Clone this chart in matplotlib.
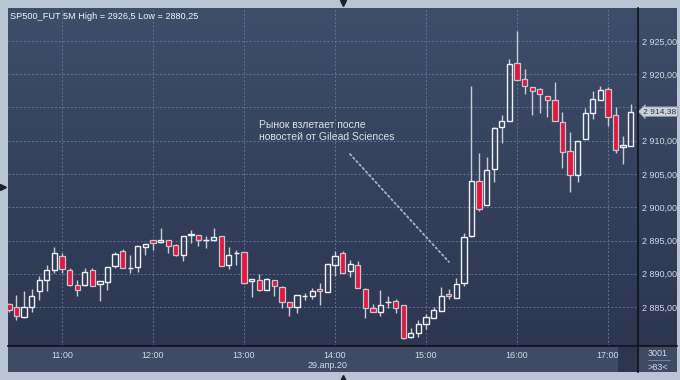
import numpy as np
import pandas as pd
import matplotlib
matplotlib.use("Agg")
import matplotlib.pyplot as plt
from matplotlib.lines import Line2D

plt.rcParams['font.family'] = ['Liberation Sans', 'DejaVu Sans']

# ---------------- data ----------------
title_text = "SP500_FUT 5M High = 2926,5 Low = 2880,25"
annotation_text = "Рынок взлетает после\nновостей от Gilead Sciences"
date_label = "29.апр.20"
start_time = "2020-04-29 10:25"
bar_count_text = ">83<"
corner_text = "3001"

opens = [2885.4, 2885.0, 2883.5, 2885.0, 2887.4, 2889.1, 2890.5, 2892.7, 2890.6, 2888.35,
         2888.35, 2890.5, 2888.45, 2888.7, 2891.1, 2893.35, 2890.8, 2891.0, 2894.0, 2895.1,
         2894.75, 2895.1, 2894.35, 2892.75, 2895.9, 2895.85, 2895.1, 2895.1, 2895.7, 2891.35,
         2893.1, 2893.25, 2888.85, 2889.0, 2887.5, 2889.1, 2887.95, 2885.75, 2884.95, 2886.6,
         2886.6, 2887.7, 2887.2, 2891.35, 2893.1, 2890.35, 2891.3, 2887.65, 2884.9, 2884.25,
         2885.8, 2885.9, 2885.25, 2880.55, 2881.15, 2882.4, 2883.3, 2884.4, 2886.9, 2886.4,
         2888.65, 2895.7, 2903.9, 2900.3, 2905.75, 2912.1, 2912.9, 2921.75, 2919.25, 2918.1,
         2917.85, 2916.75, 2916.2, 2912.85, 2908.5, 2904.85, 2910.2, 2914.1, 2916.2, 2917.85,
         2913.85, 2909.0, 2909.25]
highs = [2885.6, 2886.8, 2887.4, 2887.7, 2889.7, 2891.25, 2893.95, 2893.1, 2890.85, 2889.1,
         2890.85, 2890.85, 2888.95, 2890.95, 2893.2, 2893.7, 2892.85, 2894.25, 2894.5, 2895.1,
         2896.95, 2895.1, 2894.45, 2895.7, 2896.6, 2895.85, 2895.75, 2896.95, 2895.7, 2893.95,
         2893.6, 2893.25, 2889.2, 2890.0, 2889.4, 2889.1, 2888.2, 2885.75, 2886.85, 2887.1,
         2887.85, 2888.6, 2891.5, 2893.35, 2893.45, 2892.0, 2891.9, 2887.8, 2885.4, 2887.5,
         2886.65, 2886.15, 2885.25, 2881.8, 2883.0, 2883.9, 2885.0, 2888.0, 2887.65, 2889.4,
         2896.15, 2918.3, 2908.1, 2907.6, 2912.1, 2913.9, 2922.25, 2926.5, 2920.75, 2918.1,
         2918.0, 2916.75, 2918.8, 2914.25, 2911.25, 2909.95, 2914.95, 2917.45, 2918.2, 2918.1,
         2915.0, 2910.7, 2915.6]
lows = [2884.2, 2883.1, 2883.3, 2884.2, 2886.1, 2887.35, 2890.1, 2890.1, 2888.1, 2886.6,
        2888.2, 2888.1, 2885.95, 2887.6, 2890.85, 2890.85, 2890.1, 2890.25, 2892.85, 2893.6,
        2894.7, 2893.1, 2892.6, 2891.95, 2894.6, 2894.25, 2893.85, 2895.0, 2891.1, 2890.7,
        2891.35, 2888.5, 2886.45, 2887.35, 2887.5, 2886.7, 2884.85, 2883.6, 2884.1, 2886.1,
        2886.2, 2885.35, 2887.2, 2889.7, 2890.1, 2889.5, 2887.8, 2883.3, 2884.25, 2883.65,
        2884.9, 2884.15, 2880.25, 2880.4, 2880.55, 2881.65, 2883.3, 2884.4, 2886.15, 2886.4,
        2888.15, 2895.5, 2899.4, 2900.3, 2903.75, 2909.6, 2912.9, 2919.1, 2917.1, 2913.85,
        2914.1, 2913.6, 2913.0, 2905.95, 2902.35, 2903.75, 2910.2, 2913.25, 2916.2, 2912.25,
        2908.1, 2906.45, 2909.25]
closes = [2884.6, 2883.6, 2885.0, 2886.6, 2889.1, 2890.6, 2893.1, 2890.7, 2888.35, 2887.5,
          2890.2, 2888.2, 2888.95, 2890.95, 2892.95, 2890.85, 2890.9, 2894.25, 2894.5, 2894.6,
          2895.1, 2894.25, 2892.85, 2895.7, 2896.0, 2895.1, 2895.1, 2895.6, 2891.1, 2892.75,
          2893.1, 2888.6, 2889.2, 2887.6, 2889.25, 2888.1, 2885.75, 2884.95, 2886.85, 2886.6,
          2887.35, 2887.4, 2891.5, 2892.7, 2890.1, 2891.4, 2887.8, 2884.9, 2884.25, 2885.25,
          2885.8, 2884.8, 2880.3, 2881.15, 2882.5, 2883.5, 2884.5, 2886.65, 2886.6, 2888.5,
          2895.5, 2903.9, 2899.7, 2905.6, 2911.9, 2912.9, 2921.5, 2919.1, 2918.25, 2917.5,
          2917.0, 2916.15, 2913.0, 2908.35, 2904.85, 2909.95, 2914.1, 2916.35, 2917.7, 2913.6,
          2908.6, 2909.3, 2914.38]

xtick_hours = [11, 12, 13, 14, 15, 16, 17]
xtick_labels = ["11:00", "12:00", "13:00", "14:00", "15:00", "16:00", "17:00"]
ytick_values = [2885, 2890, 2895, 2900, 2905, 2910, 2915, 2920, 2925]
ytick_labels = ["2 885,00", "2 890,00", "2 895,00", "2 900,00", "2 905,00",
                "2 910,00", "2 915,00", "2 920,00", "2 925,00"]
last_price_label = "2 914,38"

# ---------------- helpers ----------------
W, H = 680, 380
def box(x0, y0, x1, y1):
    return [x0 / W, 1 - y1 / H, (x1 - x0) / W, (y1 - y0) / H]

times = pd.date_range(start_time, periods=len(opens), freq="5min")
xs = np.array([t.hour + t.minute / 60 for t in times])

fig = plt.figure(figsize=(6.8, 3.8), dpi=100, facecolor="#b9c5d5")

# background gradient panel
bg = fig.add_axes(box(8, 8, 677, 346), zorder=0)
grad = np.linspace(0, 1, 256)[:, None]
top_c = np.array([62, 77, 106]) / 255
bot_c = np.array([44, 54, 81]) / 255
img = top_c[None, None, :] * (1 - grad[:, :, None]) + bot_c[None, None, :] * grad[:, :, None]
bg.imshow(img, aspect="auto", extent=[0, 1, 0, 1])
bg.set_axis_off()

strip = fig.add_axes(box(8, 346, 677, 372), zorder=0)
strip.set_facecolor("#3f4b64")
strip.set_xticks([]); strip.set_yticks([])
for s in strip.spines.values():
    s.set_visible(False)

scroll = fig.add_axes(box(618, 347, 637, 372), zorder=0.5)
scroll.set_facecolor("#2c3651")
scroll.set_xticks([]); scroll.set_yticks([])
for s in scroll.spines.values():
    s.set_visible(False)

# main axes
ax = fig.add_axes(box(8, 8, 638, 346), zorder=2)
ax.set_facecolor("none")
ax.set_xlim(10.4067, 17.33)
ax.set_ylim(2879.14, 2929.96)
for s in ax.spines.values():
    s.set_visible(False)

ax.set_axisbelow(True)
ax.grid(True, color="#62729a", linestyle=(0, (2, 2)), linewidth=0.7)

ax.set_xticks(xtick_hours)
ax.set_xticklabels(xtick_labels)
ax.set_yticks(ytick_values)
ax.set_yticklabels(ytick_labels)
ax.yaxis.tick_right()
ax.tick_params(axis="x", length=0, pad=3.5, labelsize=6.5, labelcolor="#d2dae8")
ax.tick_params(axis="y", length=0, pad=3, labelsize=6.5, labelcolor="#d2dae8")
for lbl, v in zip(ax.get_yticklabels(), ytick_values):
    if v == 2915:
        lbl.set_visible(False)

# candles
o = np.array(opens); h = np.array(highs); l = np.array(lows); c = np.array(closes)
body_lo = np.minimum(o, c)
body_hi = np.maximum(o, c)
up = c >= o
wick_col = "#c9ced8"
ax.vlines(xs, l, body_lo, color=wick_col, linewidth=1.0, zorder=2)
ax.vlines(xs, body_hi, h, color=wick_col, linewidth=1.0, zorder=2)
width = 0.058
heights = body_hi - body_lo
ax.bar(xs[up], heights[up], bottom=body_lo[up], width=width, facecolor="none",
       edgecolor="#eef0f4", linewidth=1.0, zorder=3)
ax.bar(xs[~up], heights[~up], bottom=body_lo[~up], width=width, facecolor="#e2163e",
       edgecolor="#c8c4cc", linewidth=0.9, zorder=3)

# title
ax.text(0.003, 0.988, title_text, transform=ax.transAxes, ha="left", va="top",
        fontsize=6.6, color="#f2f4f8")

# annotation
ax.annotate("", xy=(15.253, 2891.77), xytext=(14.165, 2908.0),
            arrowprops=dict(arrowstyle="-", linestyle=(0, (1, 1.6)), color="#aab2c2",
                            linewidth=1.3, shrinkA=0, shrinkB=0))
ax.text(0.3984, 0.636, annotation_text, transform=ax.transAxes, ha="left", va="center",
        fontsize=7.5, color="#dde2ea", linespacing=1.2)

# last price marker
ax.annotate(last_price_label, xy=(1.0, closes[-1]), xycoords=("axes fraction", "data"),
            xytext=(3.8, 0), textcoords="offset points", ha="left", va="center",
            fontsize=6.1, color="#2a3142",
            bbox=dict(boxstyle="larrow,pad=0.15", facecolor="#cdd2da", edgecolor="#8c95a6",
                      linewidth=0.6), annotation_clip=False)

# date label and corner labels
fig.text(328 / W, 1 - 366 / H, date_label, ha="center", va="center", fontsize=6.5,
         color="#d2dae8")
fig.text(658 / W, 1 - 353 / H, corner_text, ha="center", va="center", fontsize=6.5,
         color="#d2dae8")
fig.text(658 / W, 1 - 367 / H, bar_count_text, ha="center", va="center", fontsize=6.5,
         color="#d2dae8")

# separator lines
def pxline(x0, y0, x1, y1, **kw):
    fig.add_artist(Line2D([x0 / W, x1 / W], [1 - y0 / H, 1 - y1 / H], **kw))

pxline(638, 8, 638, 372, color="#101318", linewidth=1.2, zorder=5)
pxline(8, 346, 677, 346, color="#101318", linewidth=1.2, zorder=5)
pxline(648, 360, 670, 360, color="#7c8aa4", linewidth=0.6, zorder=5)

# frame triangles
ov = fig.add_axes([0, 0, 1, 1], zorder=10)
ov.set_xlim(0, W); ov.set_ylim(H, 0)
ov.set_axis_off()
ov.patch.set_alpha(0)
ov.plot([343], [2.5], marker="v", color="#1c2028", markersize=4.5)
ov.plot([2.5], [187], marker=">", color="#1c2028", markersize=4.5)
ov.plot([343], [377.5], marker="^", color="#1c2028", markersize=4.5)

fig.savefig("out.png", dpi=100, facecolor=fig.get_facecolor())
